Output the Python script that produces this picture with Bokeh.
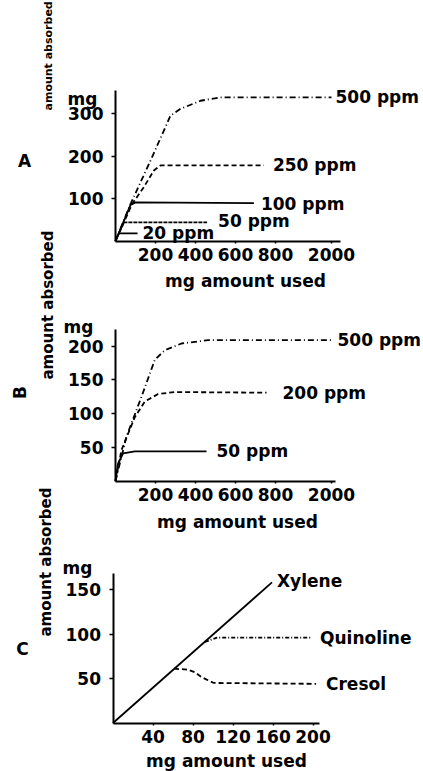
from math import pi
from bokeh.plotting import figure
from bokeh.models import Range1d, FixedTicker, Label, LinearAxis
from bokeh.embed import file_html
from bokeh.resources import INLINE

FONT = "DejaVu Sans"
WEIGHT = "bold"

# ---------------- data ----------------
# Panel A (x in mg used, y in mg absorbed)
a_xticks = [200, 400, 600, 800, 2000]
a_yticks = [100, 200, 300]
a500_x = [0, 75, 175, 275, 325, 425, 525, 2000]
a500_y = [0, 87, 189, 295, 311, 330, 338, 338]
a250_x = [0, 83, 142, 192, 225, 742]
a250_y = [0, 87, 127, 166, 178, 178]
a100_x = [0, 40, 75, 100, 692]
a100_y = [0, 45, 85, 91, 89]
a50_x = [0, 42, 458]
a50_y = [0, 44, 44]
a20_x = [0, 17, 110]
a20_y = [0, 18, 18]

# Panel B
b_xticks = [200, 400, 600, 800, 2000]
b_yticks = [50, 100, 150, 200]
b500_x = [0, 55, 130, 197, 247, 330, 463, 2000]
b500_y = [0, 66, 125, 180, 194, 204, 209, 209]
b200_x = [0, 30, 97, 147, 213, 297, 755]
b200_y = [0, 46, 95, 118, 129, 132, 131]
b50_x = [0, 13, 38, 97, 455]
b50_y = [0, 26, 41, 44, 44]

# Panel C
c_xticks = [40, 80, 120, 160, 200]
c_yticks = [50, 100, 150]
xyl_x = [0, 159]
xyl_y = [0, 158]
qui_x = [92, 104, 198]
qui_y = [91, 96, 96]
cre_x = [61, 75, 82, 88, 95, 101, 203]
cre_y = [61, 60, 57, 52, 48, 45, 44]

W, H = 423, 771


def brk(v):
    """broken x axis: linear to 800, compressed beyond"""
    return v if v <= 800 else 800 + (v - 800) * 0.2333


# one canvas; default ranges are page pixels (y downwards) for the free texts
p = figure(width=W, height=H, x_range=Range1d(0, W), y_range=Range1d(H, 0),
           output_backend="svg", toolbar_location=None,
           x_axis_location=None, y_axis_location=None,
           min_border=0, min_border_left=0, min_border_right=0,
           min_border_top=0, min_border_bottom=0)
p.xgrid.visible = False
p.ygrid.visible = False
p.outline_line_color = None
p.background_fill_color = "white"
p.border_fill_color = "white"


def panel(name, ox, oy, sx, sy, xb, yb, xticks, xlabels, yticks):
    """own scales for a panel: data origin at page pixel (ox, oy)"""
    xn, yn = name + "x", name + "y"
    p.extra_x_ranges[xn] = Range1d(-ox / sx, (W - ox) / sx)
    p.extra_y_ranges[yn] = Range1d(-(H - oy) / sy, oy / sy)
    ticks = [int(round(t)) for t in xticks]
    xa = LinearAxis(x_range_name=xn, y_range_name=yn, fixed_location=0, bounds=xb,
                    ticker=FixedTicker(ticks=ticks),
                    major_label_overrides={t: l for t, l in zip(ticks, xlabels)})
    ya = LinearAxis(x_range_name=xn, y_range_name=yn, fixed_location=0, bounds=yb,
                    ticker=FixedTicker(ticks=yticks))
    for ax in (xa, ya):
        ax.axis_line_width = 2
        ax.axis_line_color = "black"
        ax.major_tick_line_color = "black"
        ax.major_tick_line_width = 1.5
        ax.minor_tick_line_color = None
        ax.major_tick_in = 0
        ax.major_label_text_font = FONT
        ax.major_label_text_font_style = WEIGHT
        ax.major_label_text_font_size = "17px"
        ax.major_label_text_color = "black"
    ya.major_tick_out = 4
    ya.major_label_standoff = 8
    xa.major_tick_out = 2
    xa.major_label_standoff = 5
    p.add_layout(xa, "below")
    p.add_layout(ya, "left")
    return xn, yn


def text(x, y, t, xo=0, yo=0, align="left", size="17px", angle=0, names=None):
    kw = {}
    if names:
        kw = dict(x_range_name=names[0], y_range_name=names[1])
    p.add_layout(Label(x=x, y=y, x_offset=xo, y_offset=yo, text=t,
                       text_font=FONT, text_font_style=WEIGHT,
                       text_font_size=size, text_color="black",
                       text_align=align, text_baseline="middle", angle=angle, **kw))


def curve(names, xs, ys, label, xo, yo=0, dash="solid", width=1.8, transform=True):
    xx = [brk(v) for v in xs] if transform else list(xs)
    p.line(xx, ys, line_color="black", line_width=width, line_dash=dash,
           line_join="round", x_range_name=names[0], y_range_name=names[1])
    text(xx[-1], ys[-1], label, xo=xo, yo=yo, names=names)


# ---------------- Panel A ----------------
na = panel("a", 115, 240.5, 0.2, 0.425, (0, 1125), (0, 353),
           [brk(t) for t in a_xticks], [str(t) for t in a_xticks], a_yticks)
curve(na, a500_x, a500_y, "500 ppm", 4, dash="6 3 1 3")
curve(na, a250_x, a250_y, "250 ppm", 9, dash="5 3")
curve(na, a100_x, a100_y, "100 ppm", 7, yo=-1)
curve(na, a50_x, a50_y, "50 ppm", 11, yo=1, dash="4 1")
curve(na, a20_x, a20_y, "20 ppm", 5)
text(67, 98, "mg")
text(48, 110, "amount absorbed", size="11px", angle=pi / 2)
text(24, 160, "A", align="center")
text(245, 280, "mg amount used", align="center")

# ---------------- Panel B ----------------
nb = panel("b", 115, 480.5, 0.2, 0.674, (0, 1100), (0, 225),
           [brk(t) for t in b_xticks], [str(t) for t in b_xticks], b_yticks)
curve(nb, b500_x, b500_y, "500 ppm", 6, dash="6 3 1 3")
curve(nb, b200_x, b200_y, "200 ppm", 16, dash="5 3")
curve(nb, b50_x, b50_y, "50 ppm", 10)
text(63, 326, "mg")
text(47, 379, "amount absorbed", size="15px", angle=pi / 2)
text(19, 392, "B", align="center", angle=pi / 2)
text(237, 521, "mg amount used", align="center")

# ---------------- Panel C ----------------
nc = panel("c", 112.5, 722.5, 1.0, 0.89, (0, 206), (0, 168),
           c_xticks, [str(t) for t in c_xticks], c_yticks)
curve(nc, xyl_x, xyl_y, "Xylene", 5, yo=1, transform=False)
curve(nc, qui_x, qui_y, "Quinoline", 9, dash="4 2 1 2", transform=False)
curve(nc, cre_x, cre_y, "Cresol", 10, dash="5 3", transform=False)
text(62, 567, "mg")
text(45, 636, "amount absorbed", size="15px", angle=pi / 2)
text(22, 648, "C", align="center")
text(226, 760, "mg amount used", align="center")

open("out.html", "w").write(file_html(p, INLINE))
